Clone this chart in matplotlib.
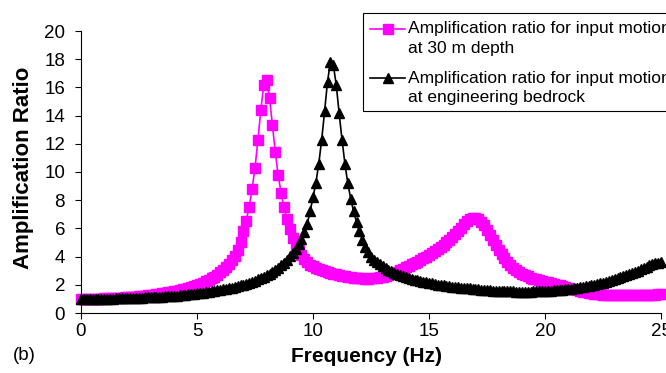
import numpy as np
import matplotlib
matplotlib.use("Agg")
import matplotlib.pyplot as plt
from matplotlib.patches import Rectangle
from matplotlib.lines import Line2D

plt.rcParams['font.family'] = ['Liberation Sans', 'DejaVu Sans']

# amplification ratio, every 0.125 Hz (0 .. 25 Hz)
freq_step = 0.125
amp_30m = [
    1.00, 1.00, 1.00, 1.01, 1.01, 1.01, 1.02, 1.02,
    1.03, 1.04, 1.05, 1.06, 1.07, 1.08, 1.09, 1.10,
    1.12, 1.13, 1.15, 1.17, 1.19, 1.21, 1.23, 1.25,
    1.28, 1.30, 1.33, 1.36, 1.39, 1.42, 1.46, 1.50,
    1.54, 1.58, 1.63, 1.68, 1.73, 1.79, 1.86, 1.93,
    2.00, 2.08, 2.16, 2.25, 2.35, 2.46, 2.58, 2.72,
    2.88, 3.05, 3.25, 3.48, 3.75, 4.05, 4.45, 5.05,
    5.80, 6.55, 7.54, 8.79, 10.30, 12.25, 14.40, 16.16,
    16.50, 15.27, 13.30, 11.40, 9.78, 8.50, 7.49, 6.67,
    5.96, 5.35, 4.85, 4.45, 4.12, 3.85, 3.62, 3.43,
    3.35, 3.22, 3.11, 3.02, 2.95, 2.89, 2.84, 2.79,
    2.74, 2.69, 2.64, 2.60, 2.56, 2.53, 2.50, 2.48,
    2.46, 2.45, 2.44, 2.44, 2.45, 2.47, 2.50, 2.54,
    2.58, 2.63, 2.69, 2.76, 2.84, 2.93, 3.03, 3.14,
    3.25, 3.35, 3.45, 3.55, 3.65, 3.76, 3.87, 3.98,
    4.10, 4.23, 4.37, 4.52, 4.68, 4.85, 5.03, 5.21,
    5.40, 5.60, 5.82, 6.06, 6.30, 6.50, 6.66, 6.75,
    6.74, 6.64, 6.46, 6.21, 5.90, 5.55, 5.18, 4.82,
    4.48, 4.16, 3.87, 3.61, 3.39, 3.20, 3.04, 2.90,
    2.78, 2.68, 2.59, 2.51, 2.44, 2.38, 2.32, 2.27,
    2.22, 2.17, 2.12, 2.07, 2.02, 1.97, 1.91, 1.85,
    1.79, 1.73, 1.67, 1.61, 1.56, 1.51, 1.47, 1.43,
    1.40, 1.37, 1.35, 1.33, 1.31, 1.30, 1.29, 1.28,
    1.27, 1.27, 1.26, 1.26, 1.26, 1.26, 1.26, 1.27,
    1.27, 1.28, 1.28, 1.29, 1.30, 1.30, 1.31, 1.32,
    1.33,
]
amp_bedrock = [
    1.00, 1.00, 1.00, 1.00, 1.00, 1.01, 1.01, 1.01,
    1.01, 1.02, 1.02, 1.02, 1.03, 1.03, 1.04, 1.04,
    1.05, 1.06, 1.06, 1.07, 1.08, 1.09, 1.10, 1.11,
    1.12, 1.13, 1.14, 1.15, 1.17, 1.18, 1.19, 1.21,
    1.23, 1.24, 1.26, 1.28, 1.30, 1.32, 1.34, 1.36,
    1.39, 1.41, 1.44, 1.47, 1.50, 1.53, 1.56, 1.60,
    1.63, 1.67, 1.71, 1.75, 1.80, 1.85, 1.90, 1.96,
    2.02, 2.08, 2.15, 2.22, 2.30, 2.38, 2.47, 2.57,
    2.68, 2.79, 2.92, 3.06, 3.21, 3.38, 3.57, 3.78,
    4.01, 4.27, 4.56, 4.89, 5.27, 5.72, 6.30, 7.20,
    8.20, 9.25, 10.60, 12.30, 14.30, 16.40, 17.80, 17.60,
    16.20, 14.20, 12.30, 10.60, 9.20, 8.10, 7.20, 6.45,
    5.80, 5.20, 4.70, 4.30, 4.00, 3.78, 3.60, 3.45,
    3.31, 3.18, 3.06, 2.95, 2.85, 2.76, 2.68, 2.61,
    2.54, 2.48, 2.42, 2.37, 2.32, 2.27, 2.22, 2.18,
    2.14, 2.10, 2.06, 2.02, 1.99, 1.96, 1.93, 1.90,
    1.87, 1.85, 1.82, 1.80, 1.78, 1.76, 1.74, 1.72,
    1.70, 1.68, 1.66, 1.64, 1.62, 1.60, 1.59, 1.58,
    1.57, 1.56, 1.55, 1.54, 1.53, 1.53, 1.52, 1.52,
    1.52, 1.52, 1.52, 1.52, 1.53, 1.53, 1.54, 1.55,
    1.56, 1.57, 1.58, 1.60, 1.62, 1.63, 1.65, 1.67,
    1.70, 1.72, 1.75, 1.78, 1.81, 1.84, 1.88, 1.92,
    1.96, 2.00, 2.05, 2.10, 2.15, 2.20, 2.26, 2.32,
    2.38, 2.45, 2.52, 2.59, 2.67, 2.75, 2.83, 2.92,
    3.01, 3.10, 3.19, 3.28, 3.37, 3.45, 3.52, 3.58,
    3.62,
]
freq = np.arange(len(amp_30m)) * freq_step

label_30m = 'Amplification ratio for input motion\nat 30 m depth'
label_bed = 'Amplification ratio for input motion\nat engineering bedrock'
magenta = '#FF00FF'

W, H = 666, 373
fig = plt.figure(figsize=(W / 100, H / 100), dpi=100)
ax = fig.add_axes([81 / W, 1 - 313 / H, 580 / W, 282 / H])

ax.plot(freq, amp_30m, '-s', color=magenta, ms=6.5, lw=1.2, clip_on=False)
ax.plot(freq, amp_bedrock, '-^', color='black', ms=7, lw=1.2, clip_on=False)

ax.set_xlim(0, 25)
ax.set_ylim(0, 20)
ax.set_xticks(range(0, 26, 5))
ax.set_yticks(range(0, 21, 2))
for s in ['top', 'right']:
    ax.spines[s].set_visible(False)
ax.tick_params(axis='both', direction='out', length=4.5, width=0.8, labelsize=13.5)
ax.tick_params(axis='y', pad=7)
ax.tick_params(axis='x', pad=3)

fig.text(24 / W, 1 - 168 / H, 'Amplification Ratio', rotation=90, ha='center',
         va='center', fontsize=16, fontweight='bold')
fig.text(366 / W, 1 - 356 / H, 'Frequency (Hz)', ha='center', va='center',
         fontsize=15, fontweight='bold')
fig.text(13 / W, 1 - 356 / H, '(b)', ha='left', va='center', fontsize=13.5)

# legend box, runs off the right edge like the original
fig.patches.append(Rectangle((363 / W, 1 - 111 / H), 320 / W, 98 / H,
                             transform=fig.transFigure, facecolor='white',
                             edgecolor='black', lw=0.8))
rows = [(29, label_30m, 's', magenta, 6.5), (78, label_bed, '^', 'black', 7)]
for y, lab, mk, col, ms in rows:
    fy = 1 - y / H
    fig.lines.append(Line2D([370 / W, 405 / W], [fy, fy], transform=fig.transFigure,
                            color=col, lw=1.2))
    fig.lines.append(Line2D([388 / W], [fy], transform=fig.transFigure, marker=mk,
                            color=col, ms=ms))
    top, bottom = lab.split('\n')
    fig.text(408 / W, fy, top, ha='left', va='center', fontsize=12.5)
    fig.text(408 / W, 1 - (y + 19.5) / H, bottom, ha='left', va='center', fontsize=12.5)

fig.savefig('out.png', dpi=100)
